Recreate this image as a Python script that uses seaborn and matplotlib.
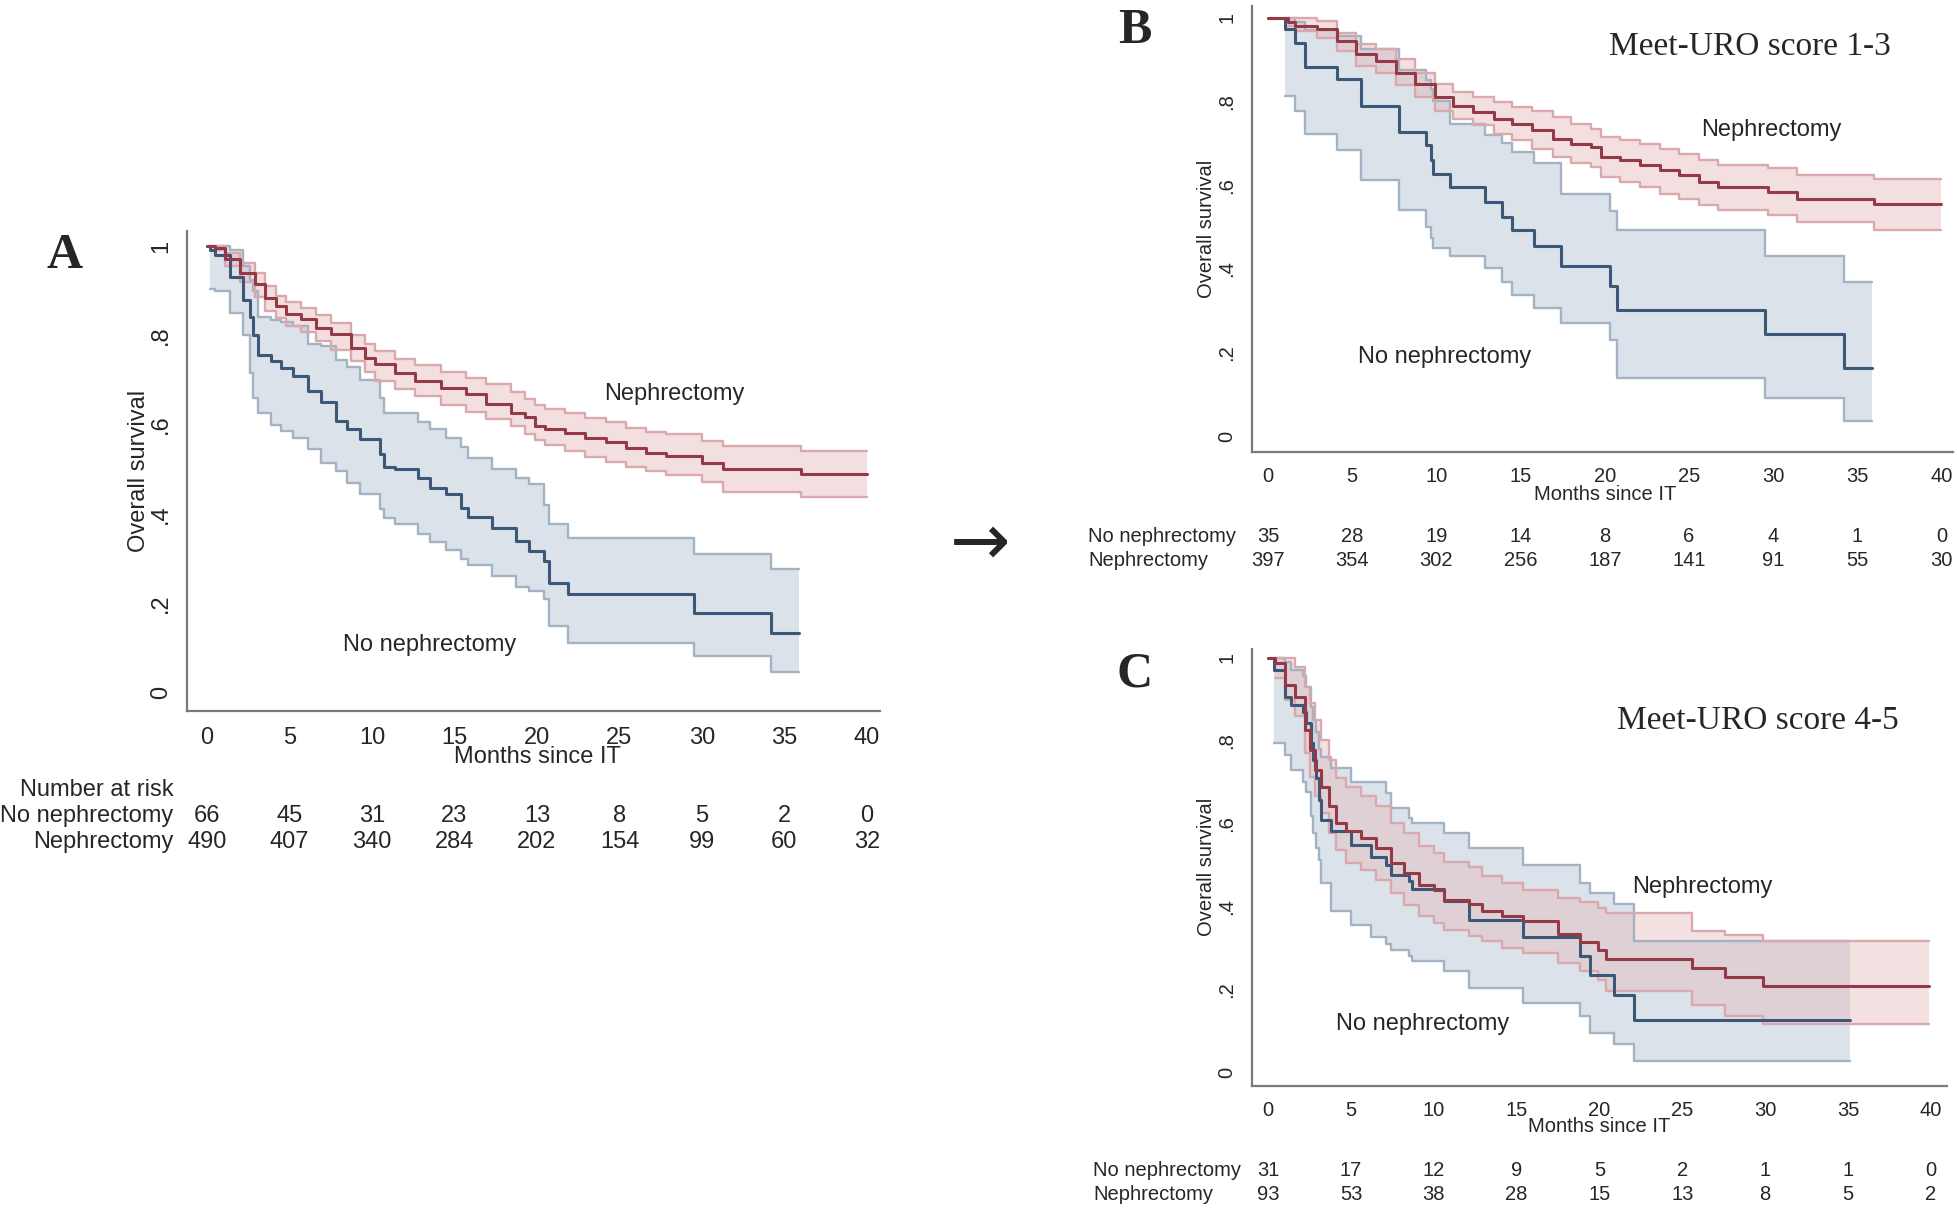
import numpy as np
import pandas as pd
import matplotlib
matplotlib.use("Agg")
import matplotlib.pyplot as plt
import matplotlib.transforms as mtransforms
import seaborn as sns

sns.set_style("white")
plt.rcParams["font.family"] = ["Liberation Sans", "DejaVu Sans"]

NAN = np.nan

# ── Panel A: all patients ─────────────────────────────────────────────────────
a_no_t  = [0, 0.15, 0.5, 1.4, 2.2, 2.6, 2.8, 3.1, 3.9, 4.5, 5.2, 6.1, 6.9, 7.8, 8.5, 9.3,
           10.5, 10.7, 11.4, 12.8, 13.5, 14.5, 15.4, 15.8, 17.3, 18.7, 19.5, 20.4, 20.7,
           21.9, 29.5, 34.2, 35.9]
a_no_s  = [1.0, 0.99, 0.98, 0.93, 0.88, 0.84, 0.80, 0.757, 0.742, 0.727, 0.71, 0.675, 0.65,
           0.608, 0.59, 0.567, 0.534, 0.504, 0.50, 0.48, 0.459, 0.444, 0.414, 0.392, 0.369,
           0.34, 0.317, 0.295, 0.246, 0.22, 0.179, 0.134, 0.134]
a_no_hi = [NAN, 1.0, 1.0, 0.99, 0.955, 0.925, 0.90, 0.84, 0.835, 0.83, 0.82, 0.78, 0.777,
           0.745, 0.73, 0.70, 0.66, 0.627, 0.625, 0.605, 0.59, 0.57, 0.55, 0.526, 0.50, 0.48,
           0.466, 0.42, 0.377, 0.347, 0.31, 0.276, 0.276]
a_no_lo = [NAN, 0.903, 0.90, 0.85, 0.80, 0.716, 0.66, 0.625, 0.60, 0.585, 0.571, 0.545, 0.515,
           0.496, 0.47, 0.444, 0.41, 0.39, 0.377, 0.355, 0.337, 0.32, 0.30, 0.285, 0.262,
           0.236, 0.228, 0.209, 0.149, 0.112, 0.082, 0.045, 0.045]

a_ne_t  = [0, 0.5, 1.1, 2.0, 2.9, 3.5, 4.2, 4.8, 5.7, 6.6, 7.5, 8.7, 9.6, 10.2, 11.4, 12.6,
           14.2, 15.7, 16.9, 18.4, 19.3, 19.9, 20.5, 21.7, 22.9, 24.2, 25.4, 26.6, 27.8, 30.0,
           31.3, 36.0, 40.0]
a_ne_s  = [1.0, 0.996, 0.972, 0.94, 0.914, 0.884, 0.866, 0.847, 0.836, 0.817, 0.802, 0.772,
           0.75, 0.735, 0.716, 0.698, 0.683, 0.668, 0.646, 0.627, 0.616, 0.597, 0.59, 0.582,
           0.571, 0.56, 0.548, 0.537, 0.53, 0.515, 0.50, 0.489, 0.489]
a_ne_hi = [NAN, 1.0, 0.985, 0.962, 0.94, 0.91, 0.888, 0.874, 0.862, 0.845, 0.828, 0.80, 0.78,
           0.765, 0.747, 0.733, 0.718, 0.705, 0.69, 0.672, 0.657, 0.645, 0.636, 0.625, 0.615,
           0.605, 0.593, 0.584, 0.578, 0.564, 0.552, 0.541, 0.541]
a_ne_lo = [NAN, 0.99, 0.955, 0.92, 0.885, 0.855, 0.838, 0.822, 0.808, 0.787, 0.768, 0.742,
           0.718, 0.698, 0.679, 0.665, 0.645, 0.628, 0.612, 0.596, 0.578, 0.565, 0.555, 0.54,
           0.528, 0.516, 0.505, 0.496, 0.488, 0.472, 0.448, 0.437, 0.437]

a_risk_no = [66, 45, 31, 23, 13, 8, 5, 2, 0]
a_risk_ne = [490, 407, 340, 284, 202, 154, 99, 60, 32]

# ── Panel B: Meet-URO score 1-3 ───────────────────────────────────────────────
b_no_t  = [0, 1.0, 1.6, 2.2, 4.1, 5.5, 7.8, 9.4, 9.7, 9.8, 10.8, 12.9, 13.9, 14.5, 15.8,
           17.4, 20.3, 20.7, 29.5, 34.2, 35.9]
b_no_s  = [1.0, 0.972, 0.94, 0.881, 0.853, 0.79, 0.727, 0.695, 0.66, 0.628, 0.596, 0.561,
           0.525, 0.493, 0.454, 0.408, 0.359, 0.303, 0.245, 0.165, 0.165]
b_no_hi = [NAN, 1.0, 0.99, 0.97, 0.955, 0.925, 0.875, 0.85, 0.83, 0.80, 0.747, 0.72, 0.70,
           0.68, 0.652, 0.58, 0.539, 0.493, 0.432, 0.37, 0.37]
b_no_lo = [NAN, 0.814, 0.778, 0.723, 0.683, 0.612, 0.541, 0.501, 0.473, 0.45, 0.43, 0.402,
           0.37, 0.339, 0.307, 0.272, 0.23, 0.141, 0.093, 0.038, 0.038]

b_ne_t  = [0, 1.2, 1.6, 2.9, 4.1, 5.2, 6.4, 7.6, 8.7, 9.9, 11.0, 12.2, 13.4, 14.5, 15.7, 16.9,
           18.0, 19.2, 19.8, 20.9, 22.1, 23.3, 24.4, 25.6, 26.7, 29.7, 31.4, 36.0, 40.0]
b_ne_s  = [1.0, 0.99, 0.98, 0.972, 0.945, 0.913, 0.897, 0.869, 0.842, 0.81, 0.79, 0.774,
           0.758, 0.747, 0.731, 0.711, 0.699, 0.691, 0.667, 0.66, 0.648, 0.636, 0.624, 0.608,
           0.596, 0.584, 0.568, 0.555, 0.555]
b_ne_hi = [NAN, 1.0, 0.998, 0.992, 0.964, 0.937, 0.925, 0.901, 0.869, 0.842, 0.822, 0.81,
           0.798, 0.786, 0.776, 0.762, 0.747, 0.735, 0.715, 0.707, 0.699, 0.687, 0.675, 0.66,
           0.648, 0.64, 0.624, 0.614, 0.614]
b_ne_lo = [NAN, 0.98, 0.968, 0.952, 0.921, 0.885, 0.869, 0.838, 0.81, 0.778, 0.758, 0.743,
           0.723, 0.707, 0.687, 0.667, 0.652, 0.644, 0.62, 0.608, 0.596, 0.58, 0.568, 0.553,
           0.541, 0.528, 0.513, 0.493, 0.493]

b_risk_no = [35, 28, 19, 14, 8, 6, 4, 1, 0]
b_risk_ne = [397, 354, 302, 256, 187, 141, 91, 55, 30]

# ── Panel C: Meet-URO score 4-5 ───────────────────────────────────────────────
c_no_t  = [0, 0.35, 1.0, 1.4, 2.1, 2.3, 2.6, 2.7, 2.9, 3.1, 3.2, 3.8, 5.0, 6.2, 7.1, 7.4,
           8.5, 8.7, 10.6, 12.1, 15.4, 18.8, 19.4, 20.9, 22.1, 35.1]
c_no_s  = [1.0, 0.97, 0.906, 0.886, 0.87, 0.842, 0.794, 0.753, 0.709, 0.657, 0.609, 0.581,
           0.547, 0.52, 0.50, 0.476, 0.46, 0.442, 0.412, 0.366, 0.326, 0.281, 0.234, 0.186,
           0.125, 0.125]
c_no_hi = [NAN, 1.0, 0.99, 0.97, 0.955, 0.93, 0.88, 0.85, 0.82, 0.78, 0.76, 0.733, 0.701,
           0.701, 0.673, 0.637, 0.613, 0.60, 0.577, 0.541, 0.499, 0.456, 0.432, 0.406, 0.316,
           0.316]
c_no_lo = [NAN, 0.794, 0.765, 0.729, 0.70, 0.677, 0.617, 0.577, 0.54, 0.512, 0.456, 0.388,
           0.356, 0.325, 0.31, 0.294, 0.28, 0.267, 0.243, 0.203, 0.167, 0.135, 0.095, 0.067,
           0.027, 0.027]

c_ne_t  = [0, 0.4, 1.0, 1.6, 2.2, 2.5, 2.8, 3.2, 3.7, 4.1, 4.7, 5.6, 6.5, 7.4, 8.2, 9.1, 10.0,
           10.6, 12.1, 12.9, 14.1, 15.4, 17.5, 18.8, 19.9, 20.4, 25.6, 27.6, 29.9, 39.9]
c_ne_s  = [1.0, 0.986, 0.934, 0.906, 0.826, 0.778, 0.729, 0.689, 0.641, 0.601, 0.581, 0.565,
           0.541, 0.504, 0.48, 0.452, 0.439, 0.416, 0.406, 0.388, 0.376, 0.364, 0.332, 0.313,
           0.294, 0.273, 0.251, 0.229, 0.207, 0.207]
c_ne_hi = [NAN, 1.0, 1.0, 0.978, 0.93, 0.89, 0.85, 0.802, 0.753, 0.709, 0.689, 0.665, 0.641,
           0.601, 0.577, 0.545, 0.529, 0.508, 0.496, 0.472, 0.456, 0.44, 0.42, 0.41, 0.395,
           0.384, 0.34, 0.33, 0.316, 0.316]
c_ne_lo = [NAN, 0.95, 0.898, 0.858, 0.77, 0.713, 0.665, 0.625, 0.577, 0.537, 0.504, 0.488,
           0.464, 0.432, 0.404, 0.376, 0.36, 0.344, 0.328, 0.316, 0.30, 0.288, 0.263, 0.243,
           0.223, 0.195, 0.163, 0.135, 0.115, 0.115]

c_risk_no = [31, 17, 12, 9, 5, 2, 1, 1, 0]
c_risk_ne = [93, 53, 38, 28, 15, 13, 8, 5, 2]

risk_times = [0, 5, 10, 15, 20, 25, 30, 35, 40]
y_ticks = [0, 0.2, 0.4, 0.6, 0.8, 1.0]
y_ticklabels = ["0", ".2", ".4", ".6", ".8", "1"]

# ── Styles ────────────────────────────────────────────────────────────────────
RED_LINE, RED_FILL, RED_EDGE = "#953947", "#e3b3b6", "#dba9ad"
BLUE_LINE, BLUE_FILL, BLUE_EDGE = "#3c5878", "#b9c6d5", "#a4b3c3"
AXIS_GREY = "#7a7a7a"


def draw_group(ax, t, s, lo, hi, line_c, fill_c, edge_c, alpha):
    df = pd.DataFrame({"t": t, "s": s, "lo": lo, "hi": hi})
    ci = df.dropna()
    ax.fill_between(ci["t"], ci["lo"], ci["hi"], step="post",
                    color=fill_c, alpha=alpha, lw=0, zorder=1)
    for col in ["lo", "hi"]:
        sns.lineplot(data=ci, x="t", y=col, ax=ax, estimator=None, sort=False,
                     drawstyle="steps-post", color=edge_c, lw=1.7, zorder=2)
    sns.lineplot(data=df, x="t", y="s", ax=ax, estimator=None, sort=False,
                 drawstyle="steps-post", color=line_c, lw=2.2, zorder=3)


def style_axes(ax, xlim, ylim, fs, pad):
    ax.set_xlim(*xlim)
    ax.set_ylim(*ylim)
    ax.set_xticks(risk_times)
    ax.set_yticks(y_ticks)
    ax.set_yticklabels(y_ticklabels, rotation=90, va="center")
    ax.set_xlabel("")
    ax.set_ylabel("Overall survival", fontsize=fs, labelpad=pad)
    for side in ["top", "right"]:
        ax.spines[side].set_visible(False)
    for side in ["left", "bottom"]:
        ax.spines[side].set_color(AXIS_GREY)
        ax.spines[side].set_linewidth(1.6)
    ax.tick_params(axis="both", direction="out", length=7, width=1.6,
                   color=AXIS_GREY, labelsize=fs, pad=4)
    ax.patch.set_alpha(0)


def risk_table(ax, fig, rows_y, label_x, ha, no_vals, ne_vals, fs, header_y=None):
    tr = mtransforms.blended_transform_factory(ax.transData, fig.transFigure)
    if header_y is not None:
        fig.text(label_x, header_y, "Number at risk", ha=ha, va="center", fontsize=fs)
    fig.text(label_x, rows_y[0], "No nephrectomy", ha=ha, va="center", fontsize=fs)
    fig.text(label_x, rows_y[1], "Nephrectomy", ha=ha, va="center", fontsize=fs)
    for x, n0, n1 in zip(risk_times, no_vals, ne_vals):
        ax.text(x, rows_y[0], str(n0), transform=tr, ha="center", va="center", fontsize=fs)
        ax.text(x, rows_y[1], str(n1), transform=tr, ha="center", va="center", fontsize=fs)


fig = plt.figure(figsize=(19.57, 12.08), dpi=100)

# ── Panel A ───────────────────────────────────────────────────────────────────
axA = fig.add_axes([0.0957, 0.4112, 0.354, 0.3977])
draw_group(axA, a_no_t, a_no_s, a_no_lo, a_no_hi, BLUE_LINE, BLUE_FILL, BLUE_EDGE, 0.5)
draw_group(axA, a_ne_t, a_ne_s, a_ne_lo, a_ne_hi, RED_LINE, RED_FILL, RED_EDGE, 0.42)
style_axes(axA, (-1.2, 40.8), (-0.042, 1.034), 17, 0)
axA.text(28.3, 0.668, "Nephrectomy", ha="center", va="center", fontsize=17)
axA.text(13.5, 0.106, "No nephrectomy", ha="center", va="center", fontsize=17)
trA = mtransforms.blended_transform_factory(axA.transData, fig.transFigure)
axA.text(20, 0.373, "Months since IT", transform=trA, ha="center", va="center", fontsize=17)
risk_table(axA, fig, [0.3244, 0.3027], 0.0886, "right", a_risk_no, a_risk_ne, 17,
           header_y=0.346)

# ── Panel B ───────────────────────────────────────────────────────────────────
axB = fig.add_axes([0.6397, 0.626, 0.3584, 0.3688])
draw_group(axB, b_no_t, b_no_s, b_no_lo, b_no_hi, BLUE_LINE, BLUE_FILL, BLUE_EDGE, 0.5)
draw_group(axB, b_ne_t, b_ne_s, b_ne_lo, b_ne_hi, RED_LINE, RED_FILL, RED_EDGE, 0.42)
style_axes(axB, (-0.96, 40.7), (-0.036, 1.027), 14.5, 1)
axB.text(29.9, 0.732, "Nephrectomy", ha="center", va="center", fontsize=17)
axB.text(10.5, 0.19, "No nephrectomy", ha="center", va="center", fontsize=17)
trB = mtransforms.blended_transform_factory(axB.transData, fig.transFigure)
axB.text(20, 0.591, "Months since IT", transform=trB, ha="center", va="center", fontsize=14.5)
risk_table(axB, fig, [0.5558, 0.5362], 0.5561, "left", b_risk_no, b_risk_ne, 14.5)

# ── Panel C ───────────────────────────────────────────────────────────────────
axC = fig.add_axes([0.6397, 0.1012, 0.3552, 0.3616])
draw_group(axC, c_no_t, c_no_s, c_no_lo, c_no_hi, BLUE_LINE, BLUE_FILL, BLUE_EDGE, 0.5)
draw_group(axC, c_ne_t, c_ne_s, c_ne_lo, c_ne_hi, RED_LINE, RED_FILL, RED_EDGE, 0.38)
style_axes(axC, (-0.98, 40.98), (-0.033, 1.021), 14.5, 1)
axC.text(26.2, 0.446, "Nephrectomy", ha="center", va="center", fontsize=17)
axC.text(9.3, 0.117, "No nephrectomy", ha="center", va="center", fontsize=17)
trC = mtransforms.blended_transform_factory(axC.transData, fig.transFigure)
axC.text(20, 0.0671, "Months since IT", transform=trC, ha="center", va="center", fontsize=14.5)
risk_table(axC, fig, [0.031, 0.0114], 0.5587, "left", c_risk_no, c_risk_ne, 14.5)

# ── Panel letters, subtitles, arrow ───────────────────────────────────────────
serif = ["Liberation Serif", "DejaVu Serif"]
for letter, x, y in [("A", 0.0332, 0.788), ("B", 0.580, 0.974), ("C", 0.580, 0.442)]:
    fig.text(x, y, letter, ha="center", va="center", fontsize=36, fontweight="bold",
             family=serif)
fig.text(0.894, 0.961, "Meet-URO score 1-3", ha="center", va="center", fontsize=24,
         family=serif)
fig.text(0.898, 0.403, "Meet-URO score 4-5", ha="center", va="center", fontsize=24,
         family=serif)
fig.text(0.5006, 0.5486, "→", ha="center", va="center", fontsize=52,
         family=["DejaVu Sans"])

fig.savefig("out.png", dpi=100)
